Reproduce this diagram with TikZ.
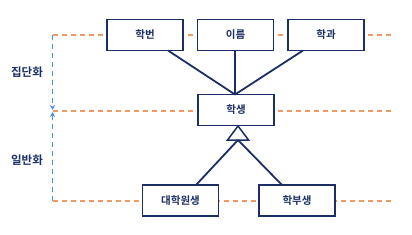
\documentclass[tikz,border=0pt]{standalone}
\usepackage{fontspec}
\newfontfamily\krb{Noto Sans CJK KR Bold}
\usetikzlibrary{arrows.meta}
\definecolor{navy}{HTML}{1B2F66}
\definecolor{orng}{HTML}{F39A64}
\definecolor{blu}{HTML}{4F8BF5}
\tikzset{
  ent/.style={draw=navy, line width=1.5pt, fill=white, minimum width=76pt, minimum height=31pt, inner sep=0pt, font=\krb\fontsize{10.5}{11}\selectfont, text=navy},
  conn/.style={draw=navy, line width=1.8pt},
  lvl/.style={draw=orng, line width=1.3pt, dash pattern=on 5pt off 4pt},
  arr/.style={draw=blu, line width=1.5pt, dash pattern=on 5pt off 4pt, -{Stealth[length=5pt,width=5pt]}},
  lbl/.style={font=\krb\fontsize{11.5}{12}\selectfont, text=navy}
}
\begin{document}
\begin{tikzpicture}[x=1pt,y=-1pt]
\useasboundingbox (0,0) rectangle (412,235);
% level lines
\coordinate (l1a) at (53,35); \coordinate (l1b) at (394,35);
\coordinate (l2a) at (53,111); \coordinate (l2b) at (394,111);
\coordinate (l3a) at (53,201); \coordinate (l3b) at (394,201);
\draw[lvl] (l1a) -- (l1b);
\draw[lvl] (l2a) -- (l2b);
\draw[lvl] (l3a) -- (l3b);
% blue arrows
\coordinate (a1) at (52.5,35); \coordinate (a2) at (52.5,110);
\coordinate (a3) at (52.5,201); \coordinate (a4) at (52.5,112);
\draw[arr] (a1) -- (a2);
\draw[arr] (a3) -- (a4);
% entities
\node[ent] (hb) at (145,35) {학번};
\node[ent] (ir) at (235.5,35) {이름};
\node[ent] (hg) at (326,35) {학과};
\node[ent] (st) at (236,110) {학생};
\node[ent] (gr) at (180.5,200.5) {대학원생};
\node[ent] (ug) at (297,200.5) {학부생};
\node[lbl] (t1) at (27,72) {집단화};
\node[lbl] (t2) at (27,160) {일반화};
% connectors
\coordinate (top) at (235,94.5);
\coordinate (irb) at (235,50.5);
\draw[conn] (168,50.5) -- (top);
\draw[conn] (irb) -- (top);
\draw[conn] (303,50.5) -- (top);
% triangle
\coordinate (tA) at (238,126);
\coordinate (tL) at (227.5,140);
\coordinate (tR) at (248.5,140);
\coordinate (tM) at (238,140);
\draw[navy, line width=1.5pt, fill=white, line join=miter] (tA) -- (tL) -- (tR) -- cycle;
\draw[conn] (tM) -- (196,185);
\draw[conn] (tM) -- (282,185);
\end{tikzpicture}
\end{document}
